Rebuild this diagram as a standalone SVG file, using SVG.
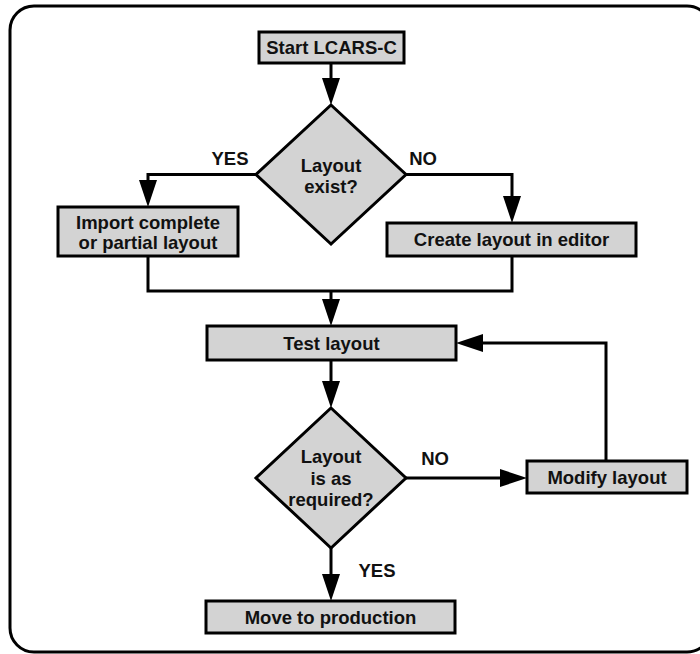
<svg xmlns="http://www.w3.org/2000/svg" width="700" height="654" viewBox="0 0 700 654">
<style>
.box{fill:#d3d3d3;stroke:#000;stroke-width:3}
.frame{fill:#fff;stroke:#000;stroke-width:3}
.ln{fill:none;stroke:#000;stroke-width:3}
.t{font-family:"Liberation Sans",Arial,sans-serif;font-weight:bold;font-size:18.5px;fill:#111;text-anchor:middle}
</style>
<defs>
<marker id="ah" markerUnits="userSpaceOnUse" markerWidth="28" markerHeight="20" viewBox="0 0 28 20" refX="18" refY="9" orient="auto">
<path d="M0,0 L27,9 L0,18 z" fill="#000"/>
</marker>
</defs>
<rect width="700" height="654" fill="#fff"/>
<rect class="frame" x="10" y="6" width="701" height="646" rx="24" ry="24"/>
<g id="connectors">
<path class="ln" d="M331,63 V96" marker-end="url(#ah)"/>
<path class="ln" d="M256,174.5 H148 V198" marker-end="url(#ah)"/>
<path class="ln" d="M406,174.5 H512 V214" marker-end="url(#ah)"/>
<path class="ln" d="M148,256 V291 H512 V256"/>
<path class="ln" d="M331,291 V317" marker-end="url(#ah)"/>
<path class="ln" d="M331,360 V399" marker-end="url(#ah)"/>
<path class="ln" d="M406,478 H518" marker-end="url(#ah)"/>
<path class="ln" d="M606,461 V343 H465" marker-end="url(#ah)"/>
<path class="ln" d="M331,548 V592" marker-end="url(#ah)"/>
</g>
<g id="start">
<rect class="box" x="259" y="32" width="145" height="31"/>
<text class="t" x="331.5" y="54">Start LCARS-C</text>
</g>
<g id="layout-exist">
<polygon class="box" points="331,105 406,174.5 331,244 256,174.5"/>
<text class="t" x="331" y="172">Layout</text>
<text class="t" x="331" y="193">exist?</text>
</g>
<g id="label-yes-1"><text class="t" x="230" y="165">YES</text></g>
<g id="label-no-1"><text class="t" x="423" y="165">NO</text></g>
<g id="import">
<rect class="box" x="58" y="207" width="180" height="49"/>
<text class="t" x="148" y="229">Import complete</text>
<text class="t" x="148" y="249">or partial layout</text>
</g>
<g id="create">
<rect class="box" x="387" y="223" width="249" height="33"/>
<text class="t" x="511.5" y="246">Create layout in editor</text>
</g>
<g id="test">
<rect class="box" x="207" y="326" width="249" height="34"/>
<text class="t" x="331.5" y="349.5">Test layout</text>
</g>
<g id="layout-required">
<polygon class="box" points="331,408 406,478 331,548 256,478"/>
<text class="t" x="331" y="463">Layout</text>
<text class="t" x="331" y="485">is as</text>
<text class="t" x="331" y="506">required?</text>
</g>
<g id="label-no-2"><text class="t" x="435" y="465">NO</text></g>
<g id="modify">
<rect class="box" x="527" y="461" width="160" height="32"/>
<text class="t" x="607" y="484">Modify layout</text>
</g>
<g id="label-yes-2"><text class="t" x="377" y="577">YES</text></g>
<g id="move">
<rect class="box" x="206" y="601" width="249" height="32"/>
<text class="t" x="330.5" y="624">Move to production</text>
</g>
</svg>
